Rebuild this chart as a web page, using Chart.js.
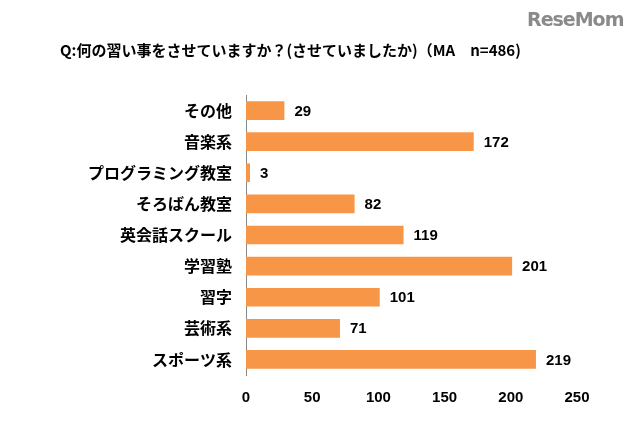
<!DOCTYPE html>
<html><head><meta charset="utf-8">
<script src="https://cdn.jsdelivr.net/npm/chart.js@4"></script>
<style>
html,body{margin:0;padding:0;background:#fff;width:640px;height:424px;overflow:hidden;font-family:"Noto Sans CJK JP",sans-serif}
#t{position:absolute;left:60px;top:39px;font-size:15px;font-weight:bold;color:#000;white-space:pre}
#logo{position:absolute;left:527px;top:8px;font-family:"DejaVu Sans";font-weight:bold;font-size:19px;color:#8a8a8a;letter-spacing:-1px}
#c{position:absolute;left:0;top:0}
</style></head><body>
<canvas id="c" width="640" height="424"></canvas>
<div id="t">Q:何の習い事をさせていますか？(させていましたか)（MA　n=486)</div>
<div id="logo">ReseMom</div>
<script>
const categories=["その他","音楽系","プログラミング教室","そろばん教室","英会話スクール","学習塾","習字","芸術系","スポーツ系"];
const values=[29,172,3,82,119,201,101,71,219];
const xTicks=[0,50,100,150,200,250];
const labelPlugin={id:"vl",afterDatasetsDraw(ch){const ctx=ch.ctx;const m=ch.getDatasetMeta(0);ctx.save();ctx.font="bold 15px 'Liberation Sans', sans-serif";ctx.fillStyle="#000";ctx.textBaseline="middle";m.data.forEach((b,i)=>{ctx.fillText(values[i],b.x+10,b.y+1);});ctx.restore();}};
new Chart(document.getElementById("c"),{type:"bar",
data:{labels:categories,datasets:[{data:values,backgroundColor:"#F79646",categoryPercentage:1,barPercentage:0.6}]},
options:{indexAxis:"y",responsive:false,animation:false,
layout:{padding:{top:95,right:63,bottom:14,left:0}},
plugins:{legend:{display:false},tooltip:{enabled:false}},
scales:{
x:{min:0,max:250,afterBuildTicks(s){s.ticks=xTicks.map(v=>({value:v}));},grid:{display:false,drawTicks:false},border:{display:false},
ticks:{padding:14,color:"#000",font:{family:"Liberation Sans",size:15,weight:"bold"}},afterFit(s){s.height=35;}},
y:{grid:{display:false,drawTicks:false},border:{display:true,color:"#888"},
ticks:{padding:14,color:"#000",font:{family:"Noto Sans CJK JP",size:16,weight:"bold"}},afterFit(s){s.width=246;}}
}},plugins:[labelPlugin]});
</script></body></html>
